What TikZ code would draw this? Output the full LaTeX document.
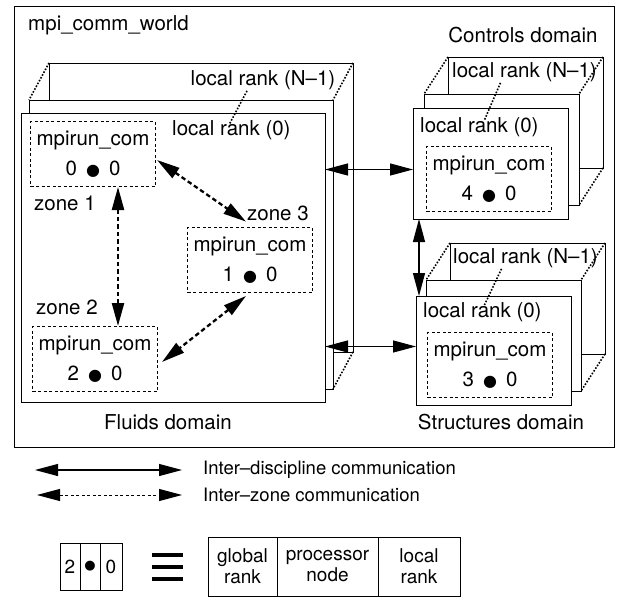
\documentclass[tikz,border=0pt]{standalone}
\usepackage{fontspec}
\setmainfont{TeX Gyre Heros}
\newfontfamily\symfont{DejaVu Sans}
\usetikzlibrary{arrows.meta, positioning, calc}

\begin{document}
\begin{tikzpicture}[
  x=1pt, y=-1pt,
  >={Triangle[length=23pt, width=12pt]},
  font=\fontsize{20.5}{24}\selectfont,
  biglayer/.style={draw, line width=1pt, fill=white, anchor=north west,
    minimum width=304pt, minimum height=289pt, inner sep=0pt, outer sep=0pt},
  smalllayer/.style={draw, line width=1pt, fill=white, anchor=north west,
    minimum width=155pt, minimum height=111pt, inner sep=0pt, outer sep=0pt},
  zonebox/.style={draw, line width=1pt, dash pattern=on 3pt off 2.5pt,
    minimum width=125pt, minimum height=65pt, inner sep=0pt, align=center,
    font=\fontsize{20.5}{30}\selectfont},
  lbl/.style={inner sep=1pt},
  legendlbl/.style={inner sep=1pt, anchor=west, font=\fontsize{18.5}{22}\selectfont},
  depthline/.style={line width=1.6pt, dash pattern=on 1.6pt off 1.6pt},
  zonearrow/.style={<->, line width=2.3pt, dash pattern=on 4.5pt off 3pt},
  discarrow/.style={<->, line width=1.2pt},
  keycell/.style={draw, line width=1pt, anchor=north west, inner sep=0pt,
    outer sep=0pt, align=center, font=\fontsize{19}{21}\selectfont},
]
\newcommand{\dotsep}{\,{\symfont\fontsize{16}{20}\selectfont●}\,}

\useasboundingbox (0,0) rectangle (619,597);

% Outer communicator
\node[draw, line width=1.2pt, anchor=north west, minimum width=600pt,
  minimum height=441pt, inner sep=0pt] (world) at (14,6) {};
\node[lbl, anchor=west] (worldlbl) at (27,25) {mpi\_comm\_world};

% === Fluids domain ===
\node[biglayer] (flback) at (49,63) {};
\node[lbl] (flrankN) at (263,80) {local rank (N–1)};
\node[biglayer] (flmid) at (29,100) {};
\node[biglayer] (flfront) at (21,113) {};
\node[lbl, anchor=west] (flrank0) at (171,130) {local rank (0)};

\node[zonebox] (zoneA) at (93,154) {mpirun\_com\\0 \dotsep\ 0};
\node[lbl, anchor=west] (zoneAlbl) at (33,203) {zone 1};
\node[lbl, anchor=west] (zoneBlbl) at (35,307) {zone 2};
\node[zonebox] (zoneB) at (95,359) {mpirun\_com\\2 \dotsep\ 0};
\node[lbl, anchor=west] (zoneClbl) at (246,213) {zone 3};
\node[zonebox] (zoneC) at (250,260) {mpirun\_com\\1 \dotsep\ 0};

\node[lbl] (fllbl) at (168,422) {Fluids domain};

% === Controls domain ===
\node[lbl] (ctlbl) at (523,35) {Controls domain};
\node[smalllayer] (ctback) at (448,57) {};
\node[lbl, anchor=west] (ctrankN) at (451,72) {local rank (N–1)};
\node[smalllayer] (ctmid) at (424,94) {};
\node[smalllayer] (ctfront) at (413,108) {};
\node[lbl, anchor=west] (ctrank0) at (419,127) {local rank (0)};
\node[zonebox] (ctzone) at (489,179) {mpirun\_com\\4 \dotsep\ 0};

% === Structures domain ===
\node[smalllayer] (stback) at (450,243) {};
\node[lbl, anchor=west] (strankN) at (452,258) {local rank (N–1)};
\node[smalllayer] (stmid) at (426,280) {};
\node[smalllayer, minimum height=109pt] (stfront) at (416,296) {};
\node[lbl, anchor=west] (strank0) at (422,312) {local rank (0)};
\node[zonebox] (stzone) at (490,365) {mpirun\_com\\3 \dotsep\ 0};
\node[lbl] (stlbl) at (501,422) {Structures domain};

% Stack depth lines
\draw[depthline] (flback.north west) -- (flmid.north west);
\draw[depthline] (flback.north east) -- (flmid.north east);
\draw[depthline] (flback.south east) -- (flmid.south east);
\draw[depthline] (ctback.north west) -- (ctmid.north west);
\draw[depthline] (ctback.north east) -- (ctmid.north east);
\draw[depthline] (ctback.south east) -- (ctmid.south east);
\draw[depthline] (stback.north west) -- (stmid.north west);
\draw[depthline] (stback.north east) -- (stmid.north east);
\draw[depthline] (stback.south east) -- (stmid.south east);

% Rank leaders
\draw[depthline] ($(flrankN.south)+(-16,0)$) -- ($(flrank0.north)+(-2,5)$);
\draw[depthline] ($(ctrankN.south)+(-24,0)$) -- ($(ctrank0.north)+(5,4)$);
\draw[depthline] ($(strankN.south)+(-24,0)$) -- ($(strank0.north)+(2,4)$);

% Inter-zone communication
\coordinate (zoneAB) at ($(zoneA.south)+(25,0)$);
\draw[zonearrow] (zoneAB) -- (zoneAB |- zoneB.north);
\draw[zonearrow] ($(zoneA.east)+(1,6)$) -- (zoneClbl.south west);
\draw[zonearrow] ($(zoneC.south)+(-4,3)$) -- ($(zoneB.east)+(4,3)$);

% Inter-discipline communication
\coordinate (ctport) at ($(ctfront.west)+(0,6)$);
\coordinate (stport) at ($(stfront.west)+(0,-4)$);
\coordinate (ctstport) at ($(ctfront.south west)+(6,0)$);
\draw[discarrow] (ctport) -- (ctport -| flfront.east);
\draw[discarrow] (stport) -- (stport -| flfront.east);
\draw[discarrow] (ctstport) -- (ctstport |- stfront.north);

% === Legend ===
\node[legendlbl] (lgdisc) at (202,470) {Inter–discipline communication};
\coordinate (lgdiscA) at (35,470);
\coordinate (lgdiscB) at (182,470);
\draw[<->, line width=1.1pt] (lgdiscA) -- (lgdiscB);

\node[legendlbl] (lgzone) at (202,495) {Inter–zone communication};
\coordinate (lgzoneA) at (37,495);
\coordinate (lgzoneB) at (182,495);
\draw[<->, line width=1pt, dash pattern=on 3pt off 2.5pt] (lgzoneA) -- (lgzoneB);

% Rank key
\node[keycell, minimum width=20pt, minimum height=47pt] (keyG) at (60,543) {2};
\node[keycell, minimum width=20pt, minimum height=47pt] (keyP) at (keyG.north east)
  {{\symfont\fontsize{13}{20}\selectfont●}};
\node[keycell, minimum width=22pt, minimum height=47pt] (keyL) at (keyP.north east) {0};

\draw[line width=4pt] (152,555) -- (183,555);
\draw[line width=4pt] (152,567) -- (183,567);
\draw[line width=4pt] (152,579) -- (183,579);

\node[keycell, minimum width=69pt, minimum height=59pt] (tabG) at (208,537) {global\\rank};
\node[keycell, minimum width=101pt, minimum height=59pt] (tabP) at (tabG.north east) {processor\\node};
\node[keycell, minimum width=82pt, minimum height=59pt] (tabL) at (tabP.north east) {local\\rank};

\end{tikzpicture}
\end{document}
